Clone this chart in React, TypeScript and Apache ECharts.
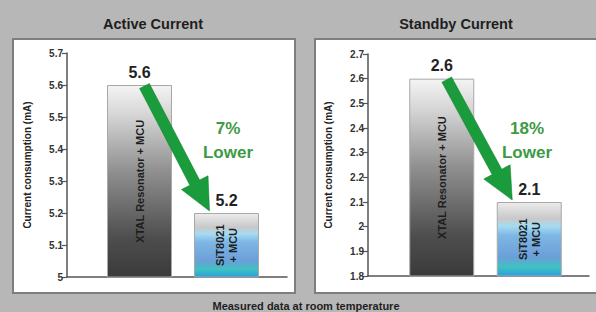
import React, { useEffect, useRef } from "react";
import * as echarts from "echarts";

const categories = ["XTAL Resonator + MCU", "SiT8021\n+ MCU"];
const activeValues = [5.6, 5.2];
const standbyValues = [2.6, 2.1];
const activeAxis = { min: 5, max: 5.7, interval: 0.1 };
const standbyAxis = { min: 1.8, max: 2.7, interval: 0.1 };
const reductions = ["7%", "18%"];
const panelTitles = ["Active Current", "Standby Current"];
const axisName = "Current consumption (mA)";
const footnote = "Measured data at room temperature";

const FONT = "'Liberation Sans', Arial, sans-serif";
const GREEN = "#1a9b3c";
const TEXT_GREEN = "#3d9a45";

const xtalGradient = new echarts.graphic.LinearGradient(0, 0, 0, 1, [
  { offset: 0, color: "#f4f4f4" },
  { offset: 0.15, color: "#d6d6d6" },
  { offset: 0.45, color: "#8f8f8f" },
  { offset: 0.8, color: "#4d4d4d" },
  { offset: 1, color: "#3a3a3a" },
]);
const sitGradient = new echarts.graphic.LinearGradient(0, 0, 0, 1, [
  { offset: 0, color: "#ececec" },
  { offset: 0.22, color: "#c8c8c8" },
  { offset: 0.32, color: "#a6dcf2" },
  { offset: 0.45, color: "#7eb6e4" },
  { offset: 0.75, color: "#6a9fd8" },
  { offset: 0.88, color: "#3fc2c0" },
  { offset: 1, color: "#2b9fe0" },
]);

function arrowSeries(xIdx: number, yIdx: number, values: number[]) {
  return {
    type: "custom",
    xAxisIndex: xIdx,
    yAxisIndex: yIdx,
    silent: true,
    clip: false,
    z: 10,
    data: [[0, values[0], 1, values[1]]],
    renderItem: (_p: any, api: any) => {
      const s0 = api.coord([api.value(0), api.value(1)]);
      const e0 = api.coord([api.value(2), api.value(3)]);
      const S = [s0[0] + 5, s0[1] + 1];
      const T = [e0[0] - 17, e0[1] - 2];
      const dx = T[0] - S[0];
      const dy = T[1] - S[1];
      const len = Math.sqrt(dx * dx + dy * dy);
      const d = [dx / len, dy / len];
      const n = [-d[1], d[0]];
      const headLen = 32;
      const sh = 5.5;
      const hh = 15;
      const B = [T[0] - d[0] * headLen, T[1] - d[1] * headLen];
      const pt = (p: number[], k: number) => [p[0] + n[0] * k, p[1] + n[1] * k];
      return {
        type: "polygon",
        z2: 10,
        shape: {
          points: [pt(S, sh), pt(B, sh), pt(B, hh), T, pt(B, -hh), pt(B, -sh), pt(S, -sh)],
        },
        style: { fill: GREEN, stroke: "#0f7a2a", lineWidth: 0.5 },
      };
    },
  };
}

function barSeries(xIdx: number, yIdx: number, values: number[]) {
  return [
    {
      type: "bar",
      xAxisIndex: xIdx,
      yAxisIndex: yIdx,
      barWidth: 65,
      z: 2,
      data: values.map((v, i) => ({
        value: v,
        itemStyle: {
          color: i === 0 ? xtalGradient : sitGradient,
          borderColor: "#a8a8a8",
          borderWidth: 1,
        },
      })),
      label: {
        show: true,
        position: "inside",
        rotate: 90,
        formatter: "{b}",
        fontFamily: FONT,
        fontWeight: "bold",
        fontSize: 11,
        color: "#1e1e1e",
        align: "center",
        verticalAlign: "middle",
        lineHeight: 13,
      },
    },
    {
      type: "bar",
      xAxisIndex: xIdx,
      yAxisIndex: yIdx,
      barWidth: 65,
      barGap: "-100%",
      z: 1,
      data: values,
      itemStyle: { color: "transparent" },
      label: {
        show: true,
        position: "top",
        distance: 5,
        fontFamily: FONT,
        fontWeight: "bold",
        fontSize: 16,
        color: "#222",
      },
    },
  ];
}

function visibleY(gridIndex: number, ax: { min: number; max: number; interval: number }) {
  return {
    type: "value",
    gridIndex,
    min: ax.min,
    max: ax.max,
    interval: ax.interval,
    name: axisName,
    nameLocation: "middle",
    nameGap: 35,
    nameRotate: 90,
    nameTextStyle: { fontFamily: FONT, fontWeight: "bold", fontSize: 10, color: "#222" },
    axisLine: { show: true, lineStyle: { color: "#555", width: 1.5 } },
    axisTick: { show: true, length: 5, lineStyle: { color: "#555", width: 1.2 } },
    axisLabel: { fontFamily: FONT, fontWeight: "bold", fontSize: 10, color: "#333", margin: 4 },
    splitLine: { show: false },
  };
}

function hiddenY(gridIndex: number, ax: { min: number; max: number }) {
  return { type: "value", gridIndex, min: ax.min, max: ax.max, show: false, splitLine: { show: false } };
}

function lineX(gridIndex: number) {
  return {
    type: "category",
    gridIndex,
    data: [""],
    axisLine: { show: true, lineStyle: { color: "#555", width: 1.5 } },
    axisTick: { show: false },
    axisLabel: { show: false },
  };
}

function barX(gridIndex: number) {
  return { type: "category", gridIndex, data: categories, show: false };
}

export default function App() {
  const ref = useRef<HTMLDivElement>(null);
  useEffect(() => {
    if (!ref.current) return;
    const chart = echarts.init(ref.current, undefined, { renderer: "svg" });
    chart.setOption({
      animation: false,
      backgroundColor: "#b7b7b7",
      grid: [
        { left: 67, top: 53, width: 220, height: 224 },
        { left: 96, top: 53, width: 174, height: 224 },
        { left: 368, top: 54, width: 221, height: 222 },
        { left: 398, top: 54, width: 175, height: 222 },
      ],
      xAxis: [lineX(0), barX(1), lineX(2), barX(3)],
      yAxis: [visibleY(0, activeAxis), hiddenY(1, activeAxis), visibleY(2, standbyAxis), hiddenY(3, standbyAxis)],
      graphic: [
        { type: "rect", z: -10, shape: { x: 13, y: 39, width: 282, height: 254 }, style: { fill: "#fff", stroke: "#7e7e7e", lineWidth: 2 } },
        { type: "rect", z: -10, shape: { x: 315, y: 39, width: 284, height: 254 }, style: { fill: "#fff", stroke: "#7e7e7e", lineWidth: 2 } },
        { type: "text", x: 153, y: 24, style: { text: panelTitles[0], font: `bold 14.5px ${FONT}`, fill: "#1e1e1e", align: "center", verticalAlign: "middle" } },
        { type: "text", x: 456, y: 24, style: { text: panelTitles[1], font: `bold 14.5px ${FONT}`, fill: "#1e1e1e", align: "center", verticalAlign: "middle" } },
        { type: "text", x: 228, y: 140, style: { text: `${reductions[0]}\nLower`, font: `bold 17px ${FONT}`, lineHeight: 24, fill: TEXT_GREEN, align: "center", verticalAlign: "middle" } },
        { type: "text", x: 527, y: 140, style: { text: `${reductions[1]}\nLower`, font: `bold 17px ${FONT}`, lineHeight: 24, fill: TEXT_GREEN, align: "center", verticalAlign: "middle" } },
        { type: "text", x: 306, y: 306, style: { text: footnote, font: `bold 11px ${FONT}`, fill: "#1e1e1e", align: "center", verticalAlign: "middle" } },
      ],
      series: [
        ...barSeries(1, 1, activeValues),
        arrowSeries(1, 1, activeValues),
        ...barSeries(3, 3, standbyValues),
        arrowSeries(3, 3, standbyValues),
      ],
    });
    return () => chart.dispose();
  }, []);
  return <div ref={ref} style={{ position: "absolute", left: 0, top: 0, width: 596, height: 312 }} />;
}
